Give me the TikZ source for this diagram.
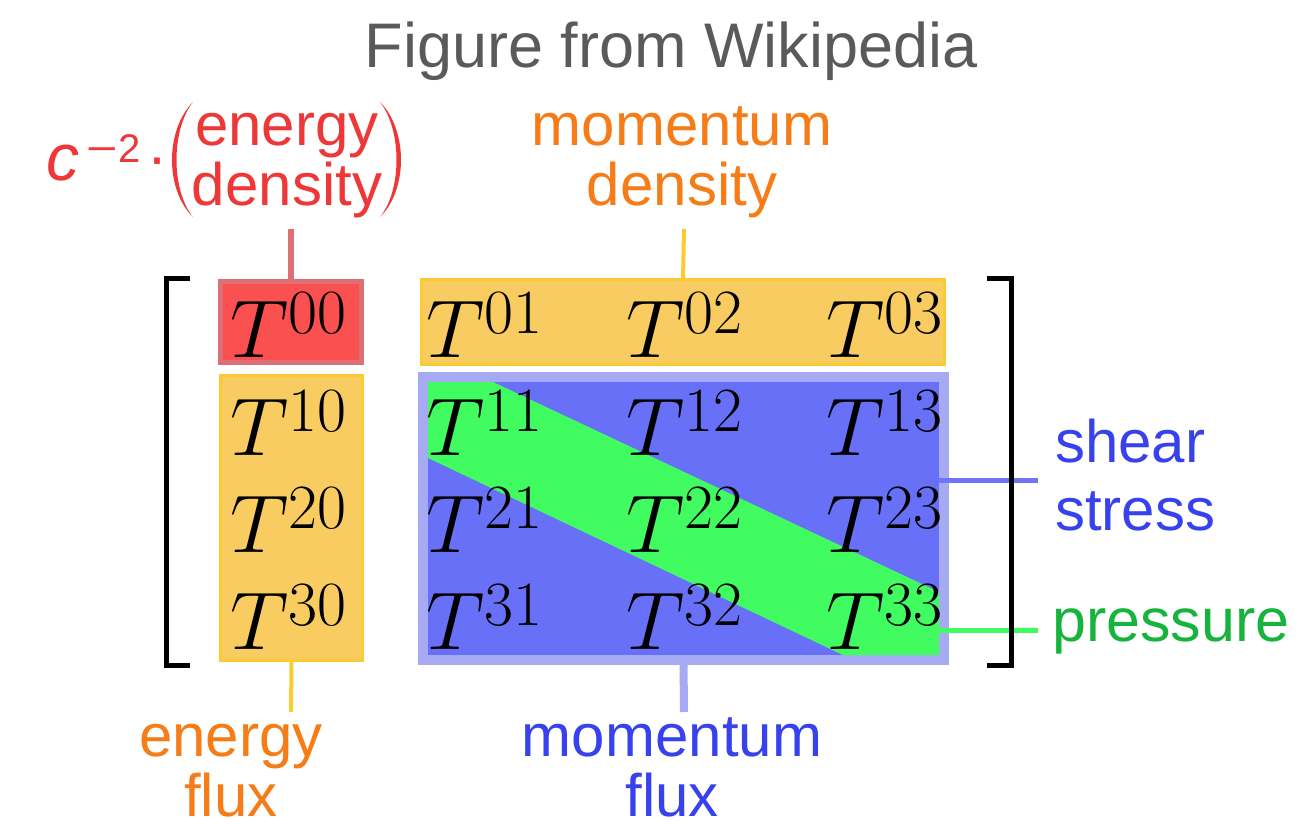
\RequirePackage{fix-cm}
\documentclass[tikz,border=0pt]{standalone}
\usepackage{fontspec}
\usepackage{mathtools}
\newfontfamily\labfont{Liberation Sans}
\DeclareMathSizes{82}{82}{63}{45}
\definecolor{titlegray}{RGB}{90,90,90}
\definecolor{redtext}{RGB}{238,56,56}
\definecolor{redfill}{RGB}{250,80,80}
\definecolor{redborder}{RGB}{220,112,116}
\definecolor{orangetext}{RGB}{246,124,24}
\definecolor{orangefill}{RGB}{248,204,96}
\definecolor{orangeborder}{RGB}{250,204,50}
\definecolor{bluetext}{RGB}{56,66,236}
\definecolor{bluefill}{RGB}{104,112,248}
\definecolor{blueborder}{RGB}{165,170,242}
\definecolor{shearline}{RGB}{110,118,245}
\definecolor{greenband}{RGB}{64,252,96}
\definecolor{greentext}{RGB}{22,180,60}
\tikzset{
  lab/.style={font=\labfont\fontsize{60}{60}\selectfont, inner sep=0pt, align=center},
  entry/.style={font=\fontsize{82}{96}\selectfont, inner sep=0pt, anchor=base},
  box/.style={rectangle, inner sep=0pt, outer sep=0pt},
}
\begin{document}
\begin{tikzpicture}[x=1pt,y=-1pt]
\useasboundingbox (0,0) rectangle (1301,824);
% title
\node[font=\labfont\fontsize{63}{63}\selectfont, text=titlegray, anchor=base, inner sep=0pt] (title) at (671,68) {Figure from Wikipedia};
% boxes
\node[box, draw=blueborder, fill=bluefill, line width=10pt, minimum width=521pt, minimum height=283pt] (mflux) at (683.5,518.5) {};
\fill[greenband] (428,382) -- (493,382) -- (939,592) -- (939,655) -- (843,655) -- (428,458) -- cycle;
\node[box, draw=redborder, fill=redfill, line width=5pt, minimum width=141pt, minimum height=81pt] (edens) at (291,322) {};
\node[box, draw=orangeborder, fill=orangefill, line width=3pt, minimum width=523pt, minimum height=85pt] (mdens) at (683,322) {};
\node[box, draw=orangeborder, fill=orangefill, line width=3pt, minimum width=142pt, minimum height=285pt] (eflux) at (291.5,518) {};
% entries
\foreach \r/\y in {0/357,1/455,2/552,3/649}
  \foreach \c/\x in {0/289,1/485,2/685,3/885}
    \node[entry] (t\r\c) at (\x,\y) {$\cramped{T^{\r\c}}$};
% connector ends
\coordinate (edtip) at (291,229);
\coordinate (mdtip) at (684,229);
\coordinate (eftip) at (291,712);
\coordinate (mftip) at (684,712);
\coordinate (shA) at (939,480);
\coordinate (shB) at (1038,480);
\coordinate (prA) at (939,630);
\coordinate (prB) at (1038,630);
\draw[redborder, line width=6pt] (edens.north) -- (edtip);
\draw[orangeborder, line width=4pt] (mdens.north) -- (mdtip);
\draw[orangeborder, line width=4pt] (eflux.south) -- (eftip);
\draw[blueborder, line width=8pt] (mflux.south) -- (mftip);
\draw[shearline, line width=5pt] (shA) -- (shB);
\draw[greenband, line width=5pt] (prA) -- (prB);
% brackets
\draw[line width=5pt, miter limit=10] (190,278.5) -- (166.5,278.5) -- (166.5,665) -- (190,665);
\draw[line width=5pt, miter limit=10] (987,278.5) -- (1011.5,278.5) -- (1011.5,665) -- (987,665);
% labels
\node[lab, text=redtext, anchor=base] (edlab) at (287,205) {energy\\density};
\node[font=\labfont\itshape\fontsize{66}{66}\selectfont, text=redtext, anchor=base west, inner sep=0pt] (cc) at (46,180) {c};
\node[font=\labfont\fontsize{40}{40}\selectfont, text=redtext, anchor=base west, inner sep=0pt] (csup) at (86,162) {\scalebox{1.35}[1]{−}\kern1pt2};
\node[font=\labfont\fontsize{60}{60}\selectfont, text=redtext, anchor=base west, inner sep=0pt] (cdot) at (147,178) {·};
\fill[redtext] (193,102) .. controls (165,130) and (165,190) .. (193,217) .. controls (171,190) and (171,130) .. (193,102) -- cycle;
\fill[redtext] (380,102) .. controls (408,130) and (408,190) .. (380,217) .. controls (402,190) and (402,130) .. (380,102) -- cycle;
\node[lab, text=orangetext, anchor=base] (mdlab) at (682,205) {momentum\\density};
\node[lab, text=orangetext, anchor=base] (eflab) at (231,816) {energy\\flux};
\node[lab, text=bluetext, anchor=base] (mflab) at (672,816) {momentum\\flux};
\node[font=\labfont\fontsize{60}{68}\selectfont, inner sep=0pt, align=left, text=bluetext, anchor=base west] (shlab) at (1055,530) {shear\\stress};
\node[font=\labfont\fontsize{61}{61}\selectfont, inner sep=0pt, text=greentext, anchor=base west] (prlab) at (1052,641) {pressure};
\end{tikzpicture}
\end{document}
